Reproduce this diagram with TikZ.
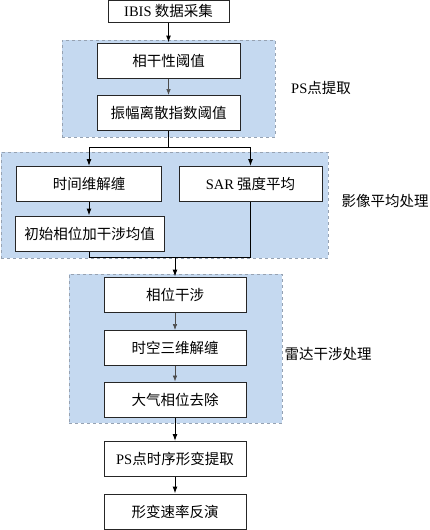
\documentclass[tikz,border=0pt]{standalone}
\usepackage{fontspec}
\usetikzlibrary{arrows.meta}
\setmainfont{Liberation Serif}
\newfontfamily\cjk{Noto Sans CJK SC}
\newcommand\latn[1]{{\rmfamily #1}}
\definecolor{grpblue}{RGB}{197,217,240}
\definecolor{grpedge}{RGB}{150,162,178}
\begin{document}
\begin{tikzpicture}[
    x=1pt, y=-1pt,
    box/.style={rectangle, draw=black!85, line width=1pt, fill=white, text centered,
        minimum width=143pt, minimum height=35pt, inner sep=0pt,
        font=\cjk\fontsize{14.5}{17}\selectfont},
    grp/.style={rectangle, draw=grpedge, dashed, line width=0.8pt, fill=grpblue, inner sep=0pt},
    lbl/.style={font=\cjk\fontsize{14.5}{17}\selectfont},
    arrow/.style={-{Latex[length=7pt,width=5pt]}, line width=1pt},
    thinarrow/.style={-{Latex[length=6pt,width=4.5pt]}, line width=0.6pt, black!70},
    link/.style={line width=1pt}
]
\useasboundingbox (0,0) rectangle (430,530);

% groups
\node[grp, minimum width=213pt, minimum height=97pt] (g1) at (168.5,88.5) {};
\node[grp, minimum width=327pt, minimum height=106pt] (g2) at (164.5,205) {};
\node[grp, minimum width=213pt, minimum height=149pt] (g3) at (175.5,348.5) {};

\node[lbl] (l1) at (321,88) {\latn{PS}点提取};
\node[lbl] (l2) at (385,201) {影像平均处理};
\node[lbl] (l3) at (328,354) {雷达干涉处理};

% steps
\node[box, minimum width=121pt, minimum height=22pt] (ibis) at (168.5,11) {\latn{IBIS} 数据采集};
\node[box] (coh) at (168.5,60.5) {相干性阈值};
\node[box] (amp) at (168.5,113) {振幅离散指数阈值};

\node[box, minimum width=145pt] (unwrap) at (89,184) {时间维解缠};
\node[box] (sar) at (250.5,184) {\latn{SAR} 强度平均};
\node[box, minimum width=149pt] (init) at (89.5,233.5) {初始相位加干涉均值};

\node[box, minimum width=142pt] (phase) at (175,294.5) {相位干涉};
\node[box, minimum width=142pt] (unwrap3d) at (175,348) {时空三维解缠};
\node[box, minimum width=142pt] (atmo) at (175,399.5) {大气相位去除};
\node[box, minimum width=142pt] (pstime) at (175,459) {\latn{PS}点时序形变提取};
\node[box, minimum width=142pt] (rate) at (175,511.5) {形变速率反演};

% connectors
\draw[arrow] (ibis) -- (coh);
\draw[thinarrow] (coh) -- (amp);
\draw[link] (amp.south) -- ++(0,16) coordinate (split);
\draw[arrow] (split) -| (unwrap);
\draw[arrow] (split) -| (sar);
\draw[arrow] (unwrap) -- (unwrap.south |- init.north);
\draw[link] (init.south) -- ++(0,6) coordinate (merge) -| (sar.south);
\draw[arrow] (merge -| phase.north) -- (phase.north);
\draw[thinarrow] (phase) -- (unwrap3d);
\draw[thinarrow] (unwrap3d) -- (atmo);
\draw[arrow] (atmo) -- (pstime);
\draw[arrow] (pstime) -- (rate);

\end{tikzpicture}
\end{document}
